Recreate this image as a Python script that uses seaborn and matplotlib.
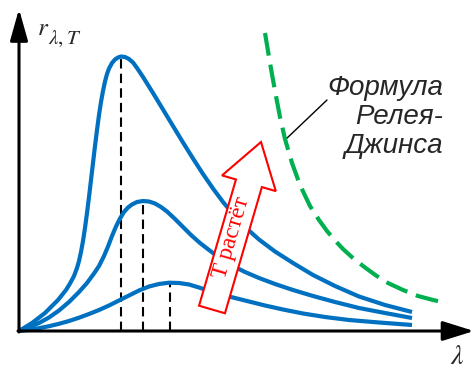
import matplotlib
matplotlib.use("Agg")
import matplotlib.pyplot as plt
import matplotlib.patches as mpatches
import seaborn as sns
import pandas as pd

# ---- data (arbitrary units: lambda, r) ----
c1_x = [0, 13, 26, 39, 47, 51, 55, 58, 60, 62, 64, 66, 68, 70, 72, 74, 76, 78, 80, 82, 84, 86, 88, 90, 93, 96, 99, 102,
        106, 110, 114, 118, 124, 134, 144, 154, 164, 174, 184, 194, 204, 214, 226, 240, 256, 274, 294, 316, 340, 366, 393]
c1_y = [0, 8, 18, 31, 41, 47.5, 55, 63, 70, 79, 90, 103, 118, 134, 151, 168, 185, 201, 216, 229, 240, 249.5, 257, 262.5, 268, 271.5, 273.5, 274.5,
        274, 272, 268.5, 263, 254, 238, 221.5, 205, 188.5, 172.5, 157, 142.5, 129, 117, 104, 91.5, 79.5, 68, 56, 45, 34.5, 26, 19]

c2_x = [0, 10, 20, 30, 40, 50, 60, 68, 75, 80, 85, 89, 93, 97, 101, 105, 109, 113, 118, 124, 130, 136, 142, 148,
        156, 164, 172, 181, 190, 200, 212, 226, 240, 256, 274, 294, 316, 340, 366, 393]
c2_y = [0, 3.5, 8, 13.5, 20.5, 29, 39, 48, 57.5, 65, 75, 84.5, 95, 104.5, 112.5, 119, 123.5, 126.5, 129, 130, 129.5, 127.5, 124, 119.5,
        112, 104, 96, 88, 81, 73.5, 66, 59, 53, 47, 41, 35, 29, 23, 18, 13]

c3_x = [0, 10, 20, 30, 40, 50, 60, 70, 80, 90, 100, 110, 120, 130, 140, 150, 160, 170, 180, 192, 204, 216, 230, 246,
        264, 284, 306, 330, 360, 393]
c3_y = [0, 1.2, 2.8, 4.8, 7.2, 10, 13.3, 17, 21, 25.5, 30.5, 35.5, 40.5, 44.5, 47, 48.3, 48, 46.5, 43.5, 39.5, 36, 33, 29.5, 25.5,
        21.5, 17.5, 14, 11, 8.5, 6]

peak_x = [102, 124, 151]
peak_y = [274.5, 130, 48.3]

rj_x = [246, 251, 256, 261, 266, 273, 281, 291, 300, 308, 316, 324, 335, 346, 357, 369, 384, 399, 414, 428]
rj_y = [298, 268, 240, 214, 192, 168, 146, 125, 111, 100, 90.5, 82, 72, 63.5, 55.5, 48, 41, 35, 31, 28]

rj_label = "Формула\nРелея-\nДжинса"
arrow_label = "T растёт"

BLUE = "#0070C0"
GREEN = "#00B050"
RED = "#FF0000"

sns.set_theme(style="white")
plt.rcParams["font.family"] = ["Liberation Sans", "DejaVu Sans"]
plt.rcParams["mathtext.fontset"] = "stix"

fig = plt.figure(figsize=(4.75, 3.73), dpi=100)
ax = fig.add_axes([0, 0, 1, 1])
ax.set_xlim(-19, 456)
ax.set_ylim(-42, 331)
ax.axis("off")

# Planck curves
for xs, ys in [(c1_x, c1_y), (c2_x, c2_y), (c3_x, c3_y)]:
    df = pd.DataFrame({"x": xs, "y": ys})
    sns.lineplot(data=df, x="x", y="y", sort=False, color=BLUE, lw=3,
                 ax=ax, zorder=3)
    ax.lines[-1].set_solid_capstyle("butt")
    ax.lines[-1].set_solid_joinstyle("round")

# peak markers
ax.vlines(peak_x, 0, peak_y, colors="black", lw=1.5,
          linestyles=[(0, (4.5, 2.5))], zorder=2)

# Rayleigh-Jeans
dfr = pd.DataFrame({"x": rj_x, "y": rj_y})
sns.lineplot(data=dfr, x="x", y="y", sort=False, color=GREEN, lw=3,
             ax=ax, zorder=3)
ax.lines[-1].set_linestyle((0, (5.5, 2.2)))
ax.lines[-1].set_dash_capstyle("butt")

# axes with arrows
ax.annotate("", xy=(0, 322), xytext=(0, -1),
            arrowprops=dict(arrowstyle="-|>,head_length=1.6,head_width=0.45",
                            lw=2.2, color="black", shrinkA=0, shrinkB=0), zorder=5)
ax.annotate("", xy=(455, 0), xytext=(-1, 0),
            arrowprops=dict(arrowstyle="-|>,head_length=1.6,head_width=0.5",
                            lw=2.2, color="black", shrinkA=0, shrinkB=0), zorder=5)

ax.text(18, 296, "$r$", fontsize=18, ha="left", va="baseline")
ax.text(29, 287, r"$\lambda,T$", fontsize=15, ha="left", va="baseline")
ax.text(438, -26, r"$\lambda$", fontsize=20, ha="center", va="center")

# label for RJ formula with leader line
ax.plot([266, 308], [191, 231], color="black", lw=1)
ax.text(424, 214, rj_label, ha="right", va="center", multialignment="right",
        fontsize=20, style="italic", linespacing=1.17)

# "T grows" arrow
arr = mpatches.FancyArrow(193, 21.5, 49, 167.5, width=27, head_width=56,
                          head_length=43, length_includes_head=True,
                          fc="white", ec=RED, lw=1.5, zorder=6)
ax.add_patch(arr)
ax.text(213, 93, arrow_label, rotation=73.7, rotation_mode="anchor",
        ha="center", va="center", color=RED, fontsize=17,
        family=["Liberation Serif", "DejaVu Serif"], zorder=7)

fig.savefig("out.png", dpi=100)
